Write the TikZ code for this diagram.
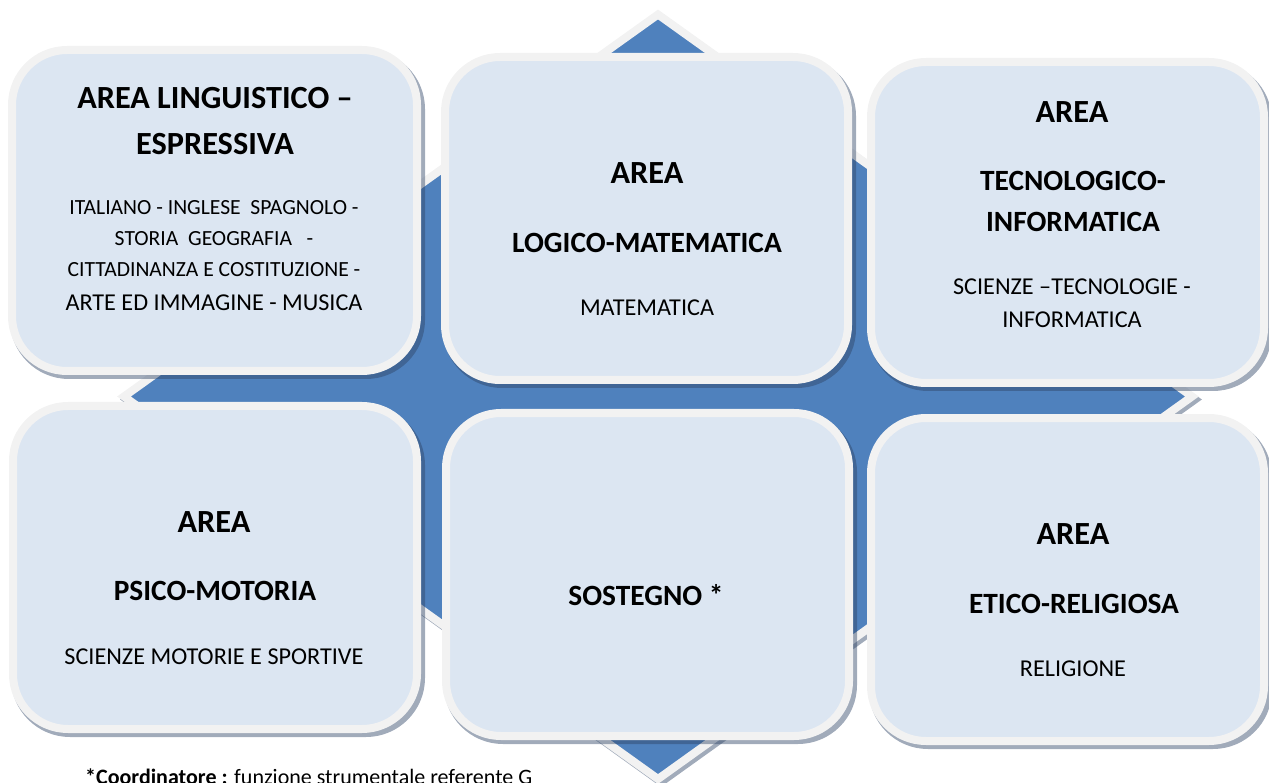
\documentclass[tikz,border=0pt]{standalone}
\usepackage{fontspec}
\setmainfont{Carlito}
\definecolor{boxfill}{HTML}{DCE6F2}
\definecolor{boxline}{HTML}{F2F2F2}
\definecolor{dblue}{HTML}{4F81BD}
\definecolor{shad}{HTML}{2E4466}
\begin{document}
\begin{tikzpicture}[x=1pt,y=-1pt,
  area/.style={draw=boxline, fill=boxfill, line width=8pt, rounded corners=55pt, rectangle, inner sep=0pt, outer sep=0pt},
  shadowbox/.style={draw=shad, fill=shad, line width=8pt, rounded corners=55pt},
  ttl/.style={font=\fontsize{32.3}{38}\selectfont\bfseries, anchor=base, inner sep=0pt},
  ttlb/.style={font=\fontsize{29.4}{35}\selectfont\bfseries, anchor=base, inner sep=0pt},
  txt/.style={font=\fontsize{24.2}{29}\selectfont, anchor=base, inner sep=0pt},
  sml/.style={font=\fontsize{21.6}{26}\selectfont, anchor=base, inner sep=0pt}]
\useasboundingbox (0,0) rectangle (1269,783);
\clip (0,0) rectangle (1269,783);
% diamond shadow and diamond
\begin{scope}[transparency group, opacity=0.45]
\path[fill=shad, draw=shad, line width=8pt, line join=miter] (661,17.5) -- (1195,399.5) -- (661,782) -- (127,399.5) -- cycle;
\end{scope}
\path[fill=dblue, draw=boxline, line width=8pt, line join=miter] (658,14.5) -- (1192,396.5) -- (658,779) -- (124,396.5) -- cycle;
% box centres
\coordinate (c1) at (214.5,210.5);
\coordinate (c2) at (646.5,218.5);
\coordinate (c3) at (1067.5,222.5);
\coordinate (c4) at (215,567.5);
\coordinate (c5) at (647.5,574.5);
\coordinate (c6) at (1067.5,579.5);
% shadows
\begin{scope}[transparency group, opacity=0.45]
\path[shadowbox] ([shift={(-200.5,-156.5)}]c1) rectangle ([shift={(206.5,164.5)}]c1);
\path[shadowbox] ([shift={(-199.5,-157.5)}]c2) rectangle ([shift={(205.5,165.5)}]c2);
\path[shadowbox] ([shift={(-194.5,-156.5)}]c3) rectangle ([shift={(200.5,164.5)}]c3);
\path[shadowbox] ([shift={(-200,-157.5)}]c4) rectangle ([shift={(206,165.5)}]c4);
\path[shadowbox] ([shift={(-199.5,-157.5)}]c5) rectangle ([shift={(205.5,165.5)}]c5);
\path[shadowbox] ([shift={(-194.5,-157.5)}]c6) rectangle ([shift={(200.5,165.5)}]c6);
\end{scope}
% boxes
\node[area, minimum width=405pt, minimum height=321pt] (b1) at (c1) {};
\node[area, minimum width=403pt, minimum height=323pt] (b2) at (c2) {};
\node[area, minimum width=393pt, minimum height=321pt] (b3) at (c3) {};
\node[area, minimum width=404pt, minimum height=323pt] (b4) at (c4) {};
\node[area, minimum width=403pt, minimum height=323pt] (b5) at (c5) {};
\node[area, minimum width=393pt, minimum height=323pt] (b6) at (c6) {};
% texts box 1
\node[ttl] (t1a) at (215,108.2) {AREA LINGUISTICO –};
\node[ttl] (t1b) at (215,154.2) {ESPRESSIVA};
\node[sml] (t1c) at (214,214.8) {ITALIANO - INGLESE\ \ SPAGNOLO -};
\node[sml] (t1d) at (214,245.8) {STORIA\ \ GEOGRAFIA\ \ \ -};
\node[sml] (t1e) at (214,276.8) {CITTADINANZA E COSTITUZIONE -};
\node[txt] (t1f) at (214,310.6) {ARTE ED IMMAGINE - MUSICA};
% box 2
\node[ttl] (t2a) at (647,183.2) {AREA};
\node[ttlb] (t2b) at (647,252.3) {LOGICO-MATEMATICA};
\node[txt] (t2c) at (647,315.6) {MATEMATICA};
% box 3
\node[ttl] (t3a) at (1072,122.2) {AREA};
\node[ttlb] (t3b) at (1073,190.3) {TECNOLOGICO-};
\node[ttlb] (t3c) at (1073,231.3) {INFORMATICA};
\node[txt] (t3d) at (1072,294.6) {SCIENZE –TECNOLOGIE -};
\node[txt] (t3e) at (1072,327.6) {INFORMATICA};
% box 4
\node[ttl] (t4a) at (214,532.2) {AREA};
\node[ttlb] (t4b) at (215,600.3) {PSICO-MOTORIA};
\node[txt] (t4c) at (214,664.6) {SCIENZE MOTORIE E SPORTIVE};
% box 5
\node[ttlb] (t5a) at (646,605.3) {SOSTEGNO *};
% box 6
\node[ttl] (t6a) at (1073,544.2) {AREA};
\node[ttlb] (t6b) at (1074,613.3) {ETICO-RELIGIOSA};
\node[txt] (t6c) at (1073,676.6) {RELIGIONE};
% footnote
\node[anchor=base west, inner sep=0pt, font=\fontsize{22}{26}\selectfont] (fn) at (85,784) {\textbf{*Coordinatore :} funzione strumentale referente G};
\end{tikzpicture}
\end{document}
